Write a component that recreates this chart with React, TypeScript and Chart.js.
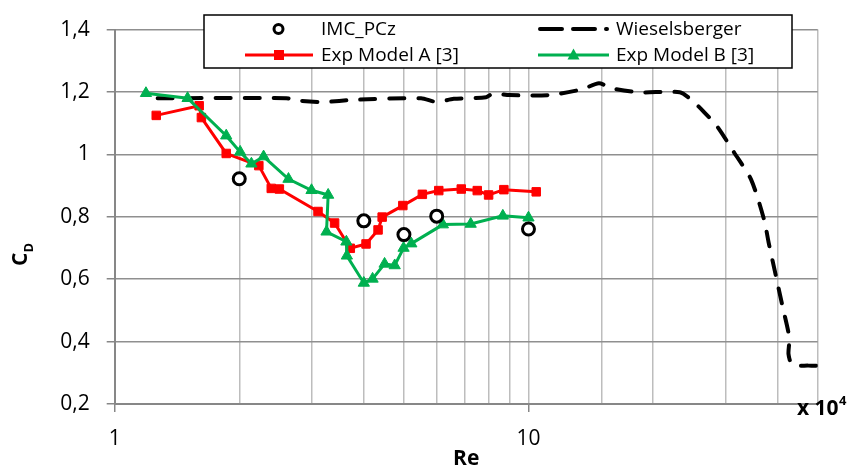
import React, { useEffect, useRef } from 'react';
import { Chart, registerables } from 'chart.js';

Chart.register(...registerables);

// ---------- data ----------
const imcRe = [2, 4, 5, 6, 10];
const imcCd = [0.922, 0.787, 0.743, 0.802, 0.761];

const wieRe = [1.27, 2.6, 2.8, 3.2, 3.8, 5.5, 6.0, 6.6, 7.9, 8.2, 9.0, 11.2, 13.5, 14.8, 15.9, 18.5, 23.2, 24.9, 26.6, 28.6, 31.4, 34.5, 37.1, 38.1, 39.6, 41.0, 42.7, 42.5, 43.4, 47.5, 50];
const wieCd = [1.18, 1.18, 1.172, 1.168, 1.175, 1.18, 1.168, 1.178, 1.183, 1.195, 1.19, 1.19, 1.209, 1.228, 1.212, 1.199, 1.199, 1.172, 1.135, 1.089, 1.006, 0.92, 0.791, 0.714, 0.612, 0.52, 0.412, 0.36, 0.326, 0.323, 0.323];

const expARe = [1.26, 1.6, 1.62, 1.86, 2.23, 2.39, 2.5, 3.1, 3.4, 3.71, 4.05, 4.33, 4.43, 4.97, 5.54, 6.07, 6.88, 7.52, 8.01, 8.72, 10.44];
const expACd = [1.125, 1.156, 1.118, 1.003, 0.964, 0.891, 0.889, 0.817, 0.78, 0.699, 0.713, 0.758, 0.799, 0.836, 0.872, 0.884, 0.889, 0.884, 0.87, 0.887, 0.88];

const expBRe = [1.19, 1.5, 1.86, 2.01, 2.14, 2.29, 2.63, 2.99, 3.28, 3.25, 3.63, 3.64, 4.0, 4.2, 4.49, 4.75, 4.99, 5.21, 6.21, 7.25, 8.67, 10.0];
const expBCd = [1.196, 1.18, 1.06, 1.008, 0.97, 0.993, 0.921, 0.885, 0.87, 0.752, 0.72, 0.675, 0.588, 0.601, 0.649, 0.644, 0.7, 0.714, 0.775, 0.777, 0.803, 0.797];

const seriesNames = ['IMC_PCz', 'Wieselsberger', 'Exp Model A [3]', 'Exp Model B [3]'];
const xLabeledTicks = [1, 10];
const xMin = 1;
const xMax = 50;
const yMin = 0.2;
const yMax = 1.4;
const yStep = 0.2;
const xTitle = 'Re';
const yTitleMain = 'C';
const yTitleSub = 'D';
const xMultiplierBase = 'x 10';
const xMultiplierExp = '4';

// ---------- styles ----------
const FONT = "'Open Sans', sans-serif";
const AXIS = '#878787';
const MAJOR = '#8f8f8f';
const MINOR = '#bdbdbd';
const RED = '#ff0000';
const GREEN = '#00b050';
const BLACK = '#000000';

const pts = (xs: number[], ys: number[]) => xs.map((x, i) => ({ x, y: ys[i] }));

const overlayPlugin = {
  id: 'overlay',
  afterDraw(chart: any) {
    const ctx: CanvasRenderingContext2D = chart.ctx;
    const area = chart.chartArea;
    ctx.save();

    // legend box
    const bx = 204, by = 15, bw = 588, bh = 53;
    ctx.fillStyle = '#ffffff';
    ctx.fillRect(bx, by, bw, bh);
    ctx.strokeStyle = '#000';
    ctx.lineWidth = 1.5;
    ctx.strokeRect(bx, by, bw, bh);

    const cols = [{ l0: 245, l1: 313, tx: 321 }, { l0: 538, l1: 609, tx: 616 }];
    const rows = [29, 55];
    const items = [
      { col: 0, row: 0, type: 'circle' },
      { col: 1, row: 0, type: 'dash' },
      { col: 0, row: 1, type: 'square' },
      { col: 1, row: 1, type: 'triangle' },
    ];
    items.forEach((it, i) => {
      const c = cols[it.col];
      const y = rows[it.row];
      const mx = (c.l0 + c.l1) / 2;
      if (it.type === 'circle') {
        ctx.beginPath();
        ctx.arc(mx - 0.5, y, 4.5, 0, Math.PI * 2);
        ctx.fillStyle = '#fff';
        ctx.fill();
        ctx.lineWidth = 3;
        ctx.strokeStyle = BLACK;
        ctx.stroke();
      } else if (it.type === 'dash') {
        ctx.beginPath();
        ctx.setLineDash([22, 11]);
        ctx.lineCap = 'round';
        ctx.lineWidth = 4;
        ctx.strokeStyle = BLACK;
        ctx.moveTo(c.l0 + 2, y);
        ctx.lineTo(c.l1 - 2, y);
        ctx.stroke();
        ctx.setLineDash([]);
        ctx.lineCap = 'butt';
      } else {
        const col = it.type === 'square' ? RED : GREEN;
        ctx.beginPath();
        ctx.lineWidth = 3;
        ctx.strokeStyle = col;
        ctx.moveTo(c.l0, y);
        ctx.lineTo(c.l1, y);
        ctx.stroke();
        ctx.fillStyle = col;
        if (it.type === 'square') {
          ctx.fillRect(mx - 5, y - 5, 10, 10);
        } else {
          ctx.beginPath();
          ctx.moveTo(mx, y - 6.5);
          ctx.lineTo(mx + 6, y + 4.5);
          ctx.lineTo(mx - 6, y + 4.5);
          ctx.closePath();
          ctx.fill();
        }
      }
      ctx.fillStyle = '#000';
      ctx.font = `19px ${FONT}`;
      ctx.textAlign = 'left';
      ctx.textBaseline = 'middle';
      ctx.fillText(seriesNames[i], c.tx, y + 1);
    });

    // x title
    ctx.fillStyle = '#000';
    ctx.font = `bold 21px ${FONT}`;
    ctx.textAlign = 'center';
    ctx.textBaseline = 'alphabetic';
    ctx.fillText(xTitle, (area.left + area.right) / 2, 465);

    // multiplier
    ctx.textAlign = 'left';
    ctx.font = `bold 21px ${FONT}`;
    ctx.fillText(xMultiplierBase, 797, 415);
    const w = ctx.measureText(xMultiplierBase).width;
    ctx.font = `bold 13px ${FONT}`;
    ctx.fillText(xMultiplierExp, 797 + w + 0.5, 405);

    // y title (rotated)
    ctx.translate(27, 266);
    ctx.rotate(-Math.PI / 2);
    ctx.font = `bold 21px ${FONT}`;
    ctx.textAlign = 'left';
    ctx.fillText(yTitleMain, 0, 0);
    const cw = ctx.measureText(yTitleMain).width;
    ctx.font = `bold 13px ${FONT}`;
    ctx.fillText(yTitleSub, cw, 6);

    ctx.restore();
  },
};

export default function App() {
  const ref = useRef<HTMLCanvasElement>(null);

  useEffect(() => {
    const canvas = ref.current;
    if (!canvas) return;
    const chart = new Chart(canvas, {
      type: 'line',
      data: {
        datasets: [
          {
            label: seriesNames[0],
            data: pts(imcRe, imcCd),
            showLine: false,
            pointStyle: 'circle',
            pointRadius: 6,
            pointBorderWidth: 3,
            pointBackgroundColor: '#ffffff',
            pointBorderColor: BLACK,
            borderColor: BLACK,
            order: 0,
          },
          {
            label: seriesNames[1],
            data: pts(wieRe, wieCd),
            borderColor: BLACK,
            borderWidth: 4,
            borderDash: [15, 14],
            borderCapStyle: 'round',
            pointRadius: 0,
            tension: 0.25,
            fill: false,
            order: 3,
          },
          {
            label: seriesNames[2],
            data: pts(expARe, expACd),
            borderColor: RED,
            backgroundColor: RED,
            borderWidth: 3,
            pointStyle: 'rect',
            pointRadius: 6,
            pointBorderWidth: 1,
            pointBackgroundColor: RED,
            pointBorderColor: RED,
            tension: 0,
            order: 2,
          },
          {
            label: seriesNames[3],
            data: pts(expBRe, expBCd),
            borderColor: GREEN,
            backgroundColor: GREEN,
            borderWidth: 3,
            pointStyle: 'triangle',
            pointRadius: 6.5,
            pointBorderWidth: 1,
            pointBackgroundColor: GREEN,
            pointBorderColor: GREEN,
            tension: 0,
            order: 1,
          },
        ],
      },
      options: {
        animation: false,
        responsive: false,
        devicePixelRatio: 1,
        parsing: true,
        layout: { padding: { top: 15, right: 34.3, left: 0, bottom: 0 } },
        plugins: {
          legend: { display: false },
          tooltip: { enabled: false },
          title: { display: false },
        },
        scales: {
          x: {
            type: 'logarithmic',
            min: xMin,
            max: xMax,
            afterFit: (s: any) => { s.height = 69; },
            border: { display: true, color: AXIS, width: 2 },
            grid: {
              color: (c: any) => (c.tick && c.tick.value === xMin ? AXIS : MINOR),
              lineWidth: 1.5,
              tickLength: 8,
              tickColor: (c: any) => (c.tick && xLabeledTicks.includes(c.tick.value) ? AXIS : 'rgba(0,0,0,0)'),
              drawTicks: true,
            },
            ticks: {
              autoSkip: false,
              maxRotation: 0,
              minRotation: 0,
              padding: 14,
              color: '#000',
              font: { family: FONT, size: 21 },
              callback: (v: any) => (xLabeledTicks.includes(Number(v)) ? String(v) : ''),
            },
          },
          y: {
            type: 'linear',
            min: yMin,
            max: yMax,
            afterFit: (s: any) => { s.width = 114.7; },
            border: { display: true, color: AXIS, width: 2 },
            grid: {
              color: MAJOR,
              lineWidth: 1.5,
              tickLength: 8,
              tickColor: AXIS,
            },
            ticks: {
              stepSize: yStep,
              padding: 17,
              color: '#000',
              font: { family: FONT, size: 21 },
              callback: (v: any) => String(Number(Number(v).toFixed(1))).replace('.', ','),
            },
          },
        },
      },
      plugins: [overlayPlugin],
    } as any);
    return () => chart.destroy();
  }, []);

  return (
    <div style={{ position: 'absolute', left: 0, top: 0, width: 852, height: 473, background: '#fff' }}>
      <canvas ref={ref} width={852} height={473} style={{ display: 'block', width: 852, height: 473 }} />
    </div>
  );
}
